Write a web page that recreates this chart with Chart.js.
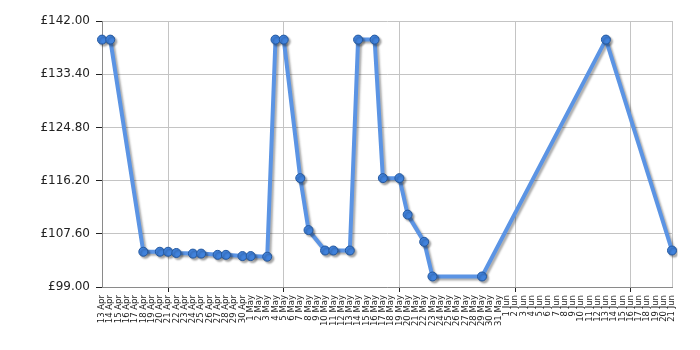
<!DOCTYPE html>
<html>
<head>
<meta charset="utf-8">
<script src="https://cdn.jsdelivr.net/npm/chart.js@4"></script>
<style>
  html, body { margin: 0; padding: 0; background: #fff; }
  #wrap { width: 700px; height: 350px; }
</style>
</head>
<body>
<div id="wrap"><canvas id="priceChart" width="700" height="350"></canvas></div>
<script>
// Every day on the x axis, 13 Apr to 21 Jun
const dayLabels = [
  '13 Apr', '14 Apr', '15 Apr', '16 Apr', '17 Apr', '18 Apr', '19 Apr', '20 Apr', '21 Apr',
  '22 Apr', '23 Apr', '24 Apr', '25 Apr', '26 Apr', '27 Apr', '28 Apr', '29 Apr', '30 Apr',
  '1 May', '2 May', '3 May', '4 May', '5 May', '6 May', '7 May', '8 May', '9 May', '10 May',
  '11 May', '12 May', '13 May', '14 May', '15 May', '16 May', '17 May', '18 May', '19 May',
  '20 May', '21 May', '22 May', '23 May', '24 May', '25 May', '26 May', '27 May', '28 May',
  '29 May', '30 May', '31 May',
  '1 Jun', '2 Jun', '3 Jun', '4 Jun', '5 Jun', '6 Jun', '7 Jun', '8 Jun', '9 Jun', '10 Jun',
  '11 Jun', '12 Jun', '13 Jun', '14 Jun', '15 Jun', '16 Jun', '17 Jun', '18 Jun', '19 Jun',
  '20 Jun', '21 Jun'
];

// Days where a price was recorded, and the price on that day
const priceDates = [
  '13 Apr', '14 Apr', '18 Apr', '20 Apr', '21 Apr', '22 Apr', '24 Apr', '25 Apr', '27 Apr',
  '28 Apr', '30 Apr', '1 May', '3 May', '4 May', '5 May', '7 May', '8 May', '10 May',
  '11 May', '13 May', '14 May', '16 May', '17 May', '19 May', '20 May', '22 May', '23 May',
  '29 May', '13 Jun', '21 Jun'
];
const priceValues = [
  138.99, 138.99, 104.70, 104.70, 104.70, 104.50, 104.40, 104.40, 104.20,
  104.20, 104.00, 104.00, 103.90, 138.99, 138.99, 116.60, 108.20, 104.90,
  104.90, 104.90, 138.99, 138.99, 116.60, 116.60, 110.70, 106.30, 100.70,
  100.70, 138.99, 104.90
];

const yTicks = [99, 107.6, 116.2, 124.8, 133.4, 142];

const gridEvery = 14;   // vertical grid line every two weeks, from 21 Apr
const gridStart = 8;

function isGridDay(i) {
  return i >= gridStart && (i - gridStart) % gridEvery === 0;
}

const shadowPlugin = {
  id: 'lineShadow',
  beforeDatasetsDraw(chart) {
    const ctx = chart.ctx;
    ctx.save();
    ctx.shadowColor = 'rgba(0, 0, 0, 0.32)';
    ctx.shadowOffsetX = 2;
    ctx.shadowOffsetY = 2;
    ctx.shadowBlur = 2;
  },
  afterDatasetsDraw(chart) {
    chart.ctx.restore();
  }
};

const ctx = document.getElementById('priceChart').getContext('2d');

new Chart(ctx, {
  type: 'line',
  data: {
    labels: dayLabels,
    datasets: [{
      data: priceDates.map((d, i) => ({ x: d, y: priceValues[i] })),
      borderColor: '#5b94e4',
      borderWidth: 4,
      pointRadius: 4.5,
      pointBackgroundColor: '#4082dc',
      pointBorderColor: '#24589e',
      pointBorderWidth: 1,
      tension: 0,
      fill: false
    }]
  },
  options: {
    responsive: false,
    animation: false,
    layout: {
      padding: { left: 0, right: 28, top: 21, bottom: 0 }
    },
    plugins: {
      legend: { display: false },
      tooltip: { enabled: false }
    },
    scales: {
      x: {
        type: 'category',
        offset: false,
        afterFit: scale => { scale.height = 63; },
        border: { color: '#8a8a8a', width: 1 },
        grid: {
          color: c => isGridDay(c.index) || c.index === dayLabels.length - 1 ? '#c4c4c4' : 'rgba(0,0,0,0)',
          tickColor: c => isGridDay(c.index) ? '#222' : 'rgba(0,0,0,0)',
          tickLength: 5
        },
        ticks: {
          autoSkip: false,
          minRotation: 90,
          maxRotation: 90,
          padding: 3,
          color: '#222',
          font: { family: 'DejaVu Sans', size: 8.5 }
        }
      },
      y: {
        min: 99,
        max: 142,
        afterBuildTicks: axis => { axis.ticks = yTicks.map(v => ({ value: v })); },
        afterFit: scale => { scale.width = 102; },
        border: { color: '#8a8a8a', width: 1 },
        grid: {
          color: '#c4c4c4',
          tickColor: '#222',
          tickLength: 6
        },
        ticks: {
          padding: 6,
          color: '#222',
          font: { family: 'DejaVu Sans', size: 12 },
          callback: v => '£' + Number(v).toFixed(2)
        }
      }
    }
  },
  plugins: [shadowPlugin]
});
</script>
</body>
</html>
